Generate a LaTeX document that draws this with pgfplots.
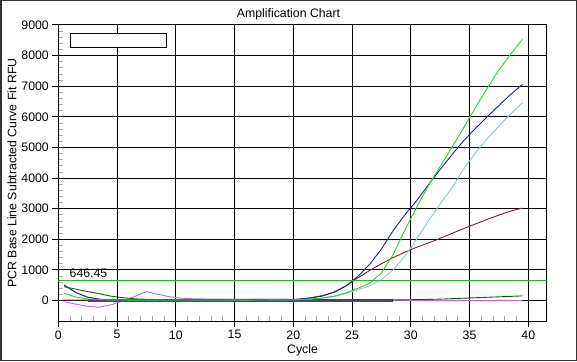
\documentclass[border=0pt]{standalone}
\usepackage{pgfplots}
\pgfplotsset{compat=1.18}
\usepackage{fontspec}
\setmainfont{Liberation Sans}
\definecolor{cgreen}{RGB}{40,210,40}
\definecolor{cthr}{RGB}{50,170,50}
\definecolor{cnavy}{RGB}{20,40,140}
\definecolor{ccyan}{RGB}{140,195,215}
\definecolor{cbrown}{RGB}{120,40,40}
\definecolor{cdgreen}{RGB}{0,100,0}
\definecolor{cmag}{RGB}{200,100,210}
\definecolor{cpurple}{RGB}{100,50,170}
\definecolor{cteal}{RGB}{20,110,130}
\definecolor{colive}{RGB}{110,110,40}
\newcommand{\tfont}{\fontsize{12.3bp}{14bp}\selectfont}
\begin{document}
\begin{tikzpicture}[x=1bp,y=1bp]
\useasboundingbox (0,0) rectangle (577,361);
\fill[white] (0,0) rectangle (577,361);
\draw[black!80, line width=1.5bp] (0.75,0.75) rectangle (576.25,360.25);
\begin{axis}[
  at={(58.3bp,40bp)}, anchor=south west,
  width=488.4bp, height=296bp, scale only axis,
  xmin=0, xmax=41.57, ymin=-670, ymax=9000,
  xtick={0,5,...,40}, ytick={0,1000,...,9000},
  minor x tick num=4, minor y tick num=4,
  tick pos=left, tick align=outside,
  major tick length=6bp, minor tick length=-5bp,
  major tick style={black, line width=1bp},
  minor tick style={black!35, line width=0.8bp},
  grid=major, major grid style={black, line width=1bp},
  axis line style={black, line width=1bp},
  ticklabel style={font=\tfont},
  /pgf/number format/assume math mode=true,
  /pgf/number format/set thousands separator={},
  clip=true,
]
% magenta / violet
\addplot[cmag, line width=0.9bp] coordinates {(0.5,-40)(1.5,-120)(2.5,-190)(3.5,-220)(4.5,-140)(5.5,-10)(6.5,130)(7.5,290)(8.5,200)(9.5,120)(10.5,75)(11.5,55)(12.5,50)(13.5,50)(14.5,50)(15.5,50)(16.5,50)(17.5,48)(18.5,46)(19.5,45)(20.5,15)(21.5,0)(25.5,0)(30.5,0)(35.5,0)(39.5,0)};
% purple thick flat
\addplot[cpurple, line width=2.2bp] coordinates {(2.5,0)(10.5,0)(20.5,0)(28.5,0)};
% small flat segments
\addplot[colive, line width=1.6bp] coordinates {(15.5,0)(17,0)};
\addplot[cteal, line width=1.6bp] coordinates {(17,0)(19,0)};
% dark green
\addplot[cdgreen, line width=0.9bp] coordinates {(0.5,450)(1.5,370)(2.5,290)(3.5,220)(4.5,140)(5.5,90)(6.5,55)(7.5,40)(8.5,30)(9.5,25)(10.5,20)(15.5,20)(20.5,18)(25.5,18)(28.5,20)(29.5,22)(30.5,28)(31.5,35)(32.5,45)(33.5,60)(34.5,75)(35.5,90)(36.5,105)(37.5,120)(38.5,135)(39.5,150)};
% brown
\addplot[cbrown, line width=0.9bp] coordinates {(0.5,10)(5.5,10)(10.5,15)(15.5,20)(19.5,25)(20.5,50)(21.5,90)(22.5,160)(23.5,270)(24.5,480)(25.5,740)(26.5,980)(27.5,1200)(28.5,1400)(29.5,1580)(30.5,1740)(31.5,1880)(32.5,2030)(33.5,2190)(34.5,2350)(35.5,2500)(36.5,2650)(37.5,2790)(38.5,2920)(39.5,3020)};
% light blue
\addplot[ccyan, line width=0.9bp] coordinates {(0.5,520)(1.5,250)(2.5,100)(3.5,40)(4.5,20)(5.5,10)(10.5,8)(15.5,10)(19.5,20)(20.5,30)(21.5,45)(22.5,75)(23.5,130)(24.5,230)(25.5,350)(26.5,480)(27.5,680)(28.5,1000)(29.5,1450)(30.5,2000)(31.5,2600)(32.5,3150)(33.5,3680)(34.5,4300)(35.5,4820)(36.5,5280)(37.5,5700)(38.5,6090)(39.5,6460)};
% navy
\addplot[cnavy, line width=0.9bp] coordinates {(0.5,500)(1.5,260)(2.5,110)(3.5,45)(4.5,20)(5.5,10)(10.5,5)(15.5,8)(19.5,20)(20.5,40)(21.5,80)(22.5,150)(23.5,280)(24.5,480)(25.5,790)(26.5,1180)(27.5,1680)(28.5,2280)(29.5,2800)(30.5,3260)(31.5,3780)(32.5,4280)(33.5,4760)(34.5,5220)(35.5,5620)(36.5,6000)(37.5,6370)(38.5,6730)(39.5,7060)};
% bright green
\addplot[cgreen, line width=0.9bp] coordinates {(0.5,235)(1.5,110)(2.5,50)(3.5,30)(4.5,20)(5.5,15)(10.5,10)(15.5,12)(19.5,22)(20.5,30)(21.5,50)(22.5,85)(23.5,145)(24.5,250)(25.5,400)(26.5,560)(27.5,900)(28.5,1500)(29.5,2300)(30.5,3050)(31.5,3750)(32.5,4380)(33.5,5000)(34.5,5640)(35.5,6300)(36.5,6930)(37.5,7530)(38.5,8050)(39.5,8530)};
% threshold
\addplot[cthr, line width=1.1bp] coordinates {(0,646.45)(41.57,646.45)};
\node[anchor=south west, inner sep=0pt, font=\tfont] at (axis cs:0.95,740) {646.45};
\draw[black, fill=white, line width=1bp] (axis cs:1.0,8715) rectangle (axis cs:9.17,8257);
\end{axis}
\node[font=\tfont] at (288.5,347) {Amplification Chart};
\node[font=\tfont] at (302.5,11) {Cycle};
\node[font=\tfont, rotate=90] at (12,188) {PCR Base Line Subtracted Curve Fit RFU};
\end{tikzpicture}
\end{document}
